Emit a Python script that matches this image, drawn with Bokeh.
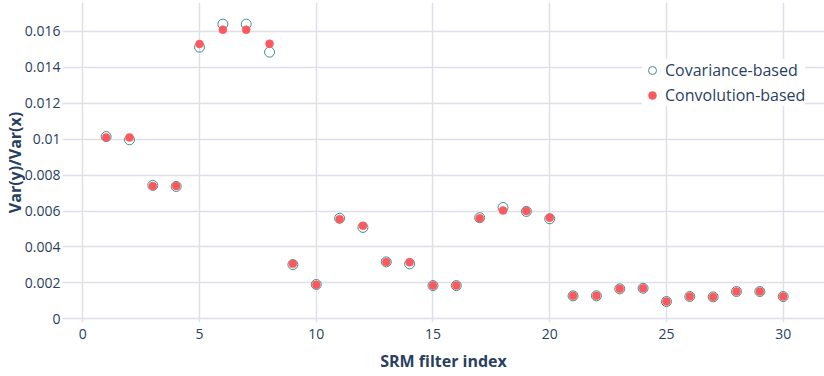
from bokeh.plotting import figure
from bokeh.models import ColumnDataSource, Range1d, SingleIntervalTicker, Legend, LegendItem
from bokeh.embed import file_html
from bokeh.resources import INLINE

filter_index = list(range(1, 31))
covariance_based = [0.01015, 0.00997, 0.00743, 0.00737, 0.01513, 0.01641, 0.01641, 0.01485,
                    0.00302, 0.00191, 0.00560, 0.00509, 0.00317, 0.00306, 0.00185, 0.00185,
                    0.00563, 0.00620, 0.00598, 0.00557, 0.00128, 0.00128, 0.00167, 0.00170,
                    0.00096, 0.00124, 0.00122, 0.00152, 0.00152, 0.00124]
convolution_based = [0.01010, 0.01010, 0.00739, 0.00739, 0.01530, 0.01610, 0.01610, 0.01532,
                     0.00306, 0.00190, 0.00555, 0.00518, 0.00316, 0.00315, 0.00185, 0.00185,
                     0.00560, 0.00603, 0.00600, 0.00563, 0.00128, 0.00128, 0.00167, 0.00170,
                     0.00096, 0.00124, 0.00122, 0.00152, 0.00152, 0.00124]
x_title = "SRM filter index"
y_title = "Var(y)/Var(x)"

TEXT = "#2a3f5f"
GRID = "#dde0e8"
FONT = "Open Sans"

src = ColumnDataSource(dict(x=filter_index, cov=covariance_based, conv=convolution_based))

p = figure(width=824, height=376, output_backend="svg", toolbar_location=None,
           x_range=Range1d(-0.869, 31.77), y_range=Range1d(-0.000206, 0.017615),
           min_border_left=62, min_border_right=0, min_border_top=2, min_border_bottom=54)
p.outline_line_color = None
p.background_fill_color = "white"
p.border_fill_color = "white"

p.xaxis.ticker = SingleIntervalTicker(interval=5)
p.yaxis.ticker = SingleIntervalTicker(interval=0.002)
p.yaxis.formatter.use_scientific = False

for ax in (p.xaxis[0], p.yaxis[0]):
    ax.axis_line_color = None
    ax.major_tick_line_color = None
    ax.minor_tick_line_color = None
    ax.major_tick_out = 0
    ax.major_tick_in = 0
    ax.major_label_text_font = FONT
    ax.major_label_text_font_size = "14px"
    ax.major_label_text_color = TEXT
    ax.axis_label_text_font = FONT
    ax.axis_label_text_font_size = "16px"
    ax.axis_label_text_font_style = "bold"
    ax.axis_label_text_color = TEXT

p.xaxis.axis_label = x_title
p.yaxis.axis_label = y_title
p.xaxis.major_label_standoff = 2
p.xaxis.axis_label_standoff = 8
p.yaxis.major_label_standoff = -2
p.yaxis.axis_label_standoff = -4

p.xgrid.grid_line_color = GRID
p.ygrid.grid_line_color = GRID
p.xgrid.grid_line_width = 1.5
p.ygrid.grid_line_width = 1.5

r_cov = p.scatter("x", "cov", source=src, marker="circle", size=10,
                  fill_color=None, line_color="#468c87", line_width=1)
r_conv = p.scatter("x", "conv", source=src, marker="circle", size=8,
                   fill_color="#fa5a5f", line_color="#fa5a5f", line_width=0.5)

legend = Legend(items=[LegendItem(label="Covariance-based", renderers=[r_cov]),
                       LegendItem(label="Convolution-based", renderers=[r_conv])],
                location=(580, 216), padding=2, spacing=3, glyph_width=20, glyph_height=20,
                label_height=20, label_standoff=3, border_line_color=None,
                background_fill_color="white", background_fill_alpha=1.0,
                label_text_font=FONT, label_text_font_size="16px", label_text_color=TEXT,
                margin=0)
p.add_layout(legend, "center")

open("out.html", "w").write(file_html(p, INLINE))
